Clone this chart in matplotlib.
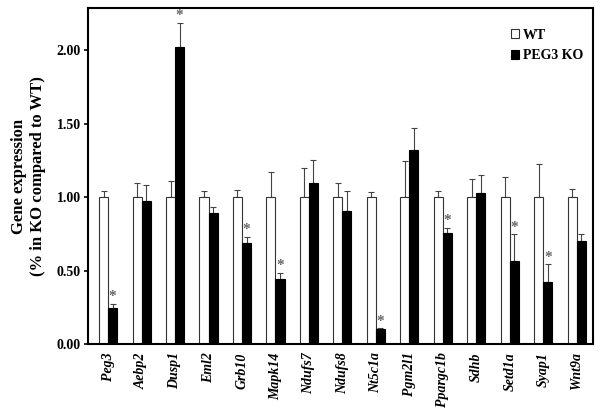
import matplotlib
matplotlib.use("Agg")
import matplotlib.pyplot as plt
import numpy as np

genes = ["Peg3", "Aebp2", "Dusp1", "Eml2", "Grb10", "Mapk14", "Ndufs7", "Ndufs8",
         "Nt5c1a", "Pgm2l1", "Ppargc1b", "Sdhb", "Setd1a", "Syap1", "Wnt9a"]
wt = [1.0] * 15
wt_err = [0.04, 0.095, 0.11, 0.04, 0.048, 0.17, 0.20, 0.093, 0.036, 0.247, 0.04, 0.12, 0.138, 0.222, 0.052]
ko = [0.247, 0.97, 2.02, 0.893, 0.69, 0.442, 1.093, 0.907, 0.10, 1.32, 0.753, 1.03, 0.565, 0.42, 0.703]
ko_err = [0.025, 0.115, 0.166, 0.041, 0.04, 0.043, 0.157, 0.136, 0.006, 0.147, 0.036, 0.12, 0.181, 0.122, 0.043]
significant = [True, False, True, False, True, True, False, False, True, False, True, False, True, True, False]
yticks = [0.0, 0.5, 1.0, 1.5, 2.0]

plt.rcParams['font.family'] = ['Liberation Serif', 'DejaVu Serif']
fig = plt.figure(figsize=(6, 4.11), dpi=100)
ax = fig.add_axes([0.1467, 0.163, 0.8413, 0.8175])

x = np.arange(len(genes))
w = 0.27
ax.bar(x - w / 2, wt, w, color='white', edgecolor='#333333', linewidth=0.8, label='WT', zorder=2)
ax.bar(x + w / 2, ko, w, color='black', edgecolor='black', linewidth=0.8, label='PEG3 KO', zorder=2)
ax.errorbar(x - w / 2, wt, yerr=[np.zeros(len(wt)), wt_err], fmt='none', ecolor='#444444',
            elinewidth=0.8, capsize=2, capthick=0.8, zorder=1)
ax.errorbar(x + w / 2, ko, yerr=[np.zeros(len(ko)), ko_err], fmt='none', ecolor='#444444',
            elinewidth=0.8, capsize=2, capthick=0.8, zorder=1)
for xi, k, e, s in zip(x, ko, ko_err, significant):
    if s:
        ax.text(xi + w / 2, k + e + 0.005, '*', ha='center', va='bottom', fontsize=11,
                color='#666666', fontweight='bold')

ax.set_xlim(-0.6, len(genes) - 1 + 0.48)
ax.set_ylim(0, 2.286)
ax.set_yticks(yticks)
ax.set_yticklabels([f"{v:.2f}" for v in yticks], fontsize=10, fontweight='bold')
ax.set_xticks(x)
ax.set_xticklabels(genes, rotation=90, fontsize=10, fontweight='bold', style='italic')
ax.tick_params(axis='x', length=0, pad=6)
ax.tick_params(axis='y', direction='out', length=3, width=1.2, pad=2)
for sp in ax.spines.values():
    sp.set_linewidth(1.5)
ax.set_ylabel("Gene expression\n(% in KO compared to WT)", fontsize=12, fontweight='bold', labelpad=8)

leg = ax.legend(loc='upper right', bbox_to_anchor=(0.992, 0.955), frameon=False,
                prop={'weight': 'bold', 'size': 10},
                handlelength=0.6, handleheight=0.6, handletextpad=0.25, borderaxespad=0,
                labelspacing=0.55)

fig.savefig("out.png", dpi=100)
